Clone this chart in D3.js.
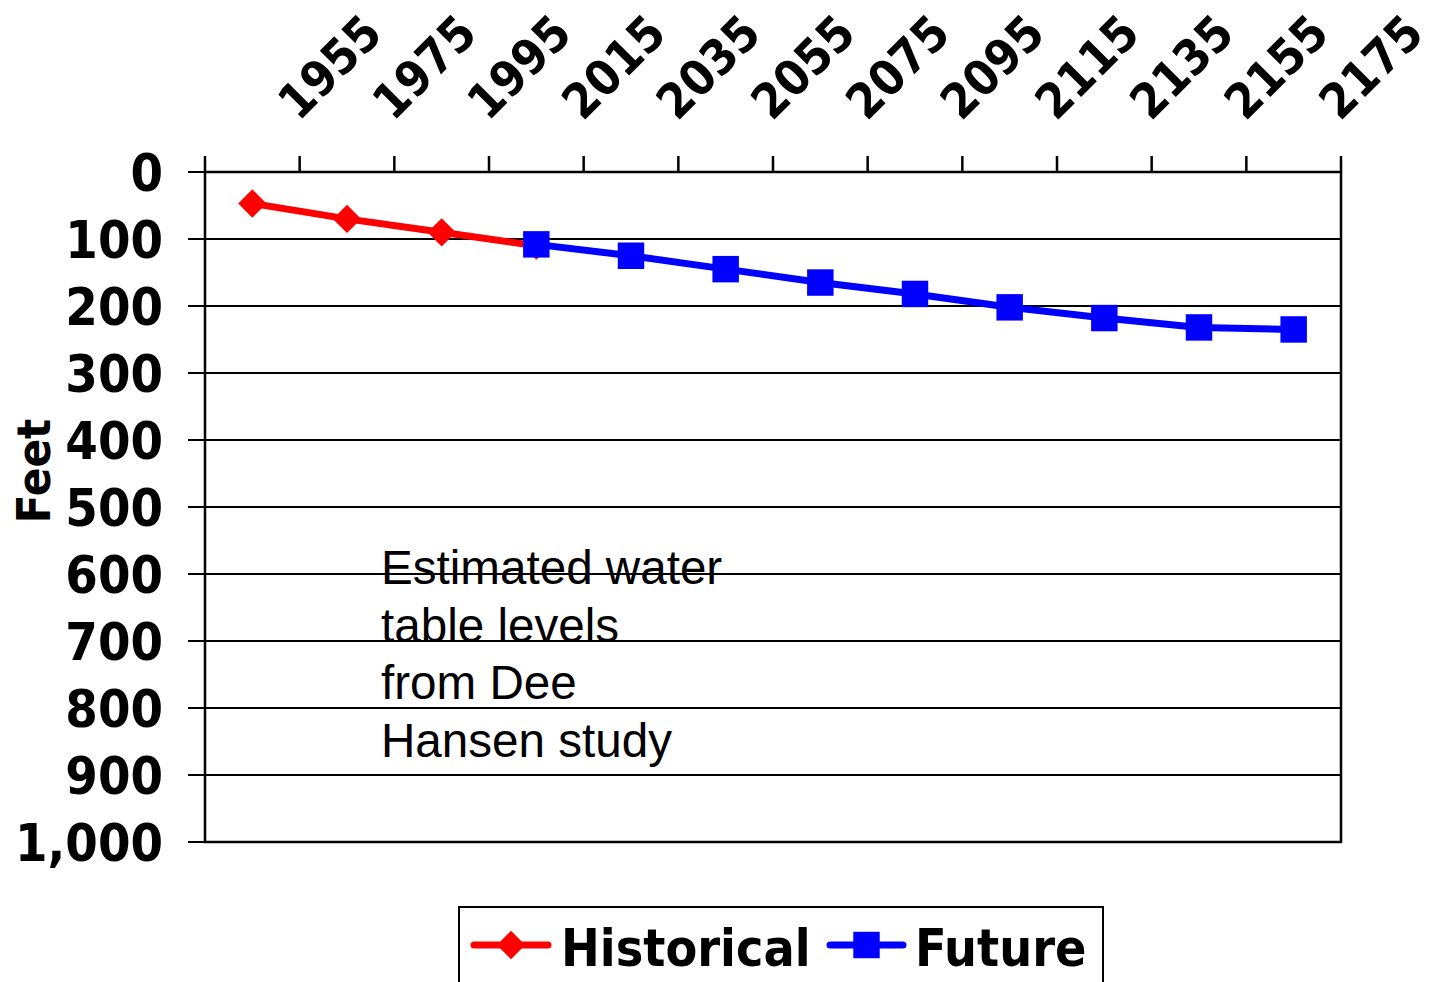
<!DOCTYPE html>
<html>
<head>
<meta charset="utf-8">
<script src="https://cdn.jsdelivr.net/npm/d3@7/dist/d3.min.js"></script>
<style>
  html, body { margin: 0; padding: 0; background: #fff; }
  svg { display: block; }
  .bold { font-family: "DejaVu Sans Condensed", "DejaVu Sans", sans-serif; font-stretch: condensed; font-weight: bold; fill: #000; }
</style>
</head>
<body>
<svg id="chart" width="1437" height="982"></svg>
<script>
// ---- Data ----
const categories = ["1955","1975","1995","2015","2035","2055","2075","2095","2115","2135","2155","2175"];
const historical = [47, 70, 90, 110, null, null, null, null, null, null, null, null];
const future     = [null, null, null, 108, 125, 145, 165, 182, 202, 218, 232, 235];
const yTicks = [0, 100, 200, 300, 400, 500, 600, 700, 800, 900, 1000];
const seriesNames = ["Historical", "Future"];
const noteLines = ["Estimated water", "table levels", "from Dee", "Hansen study"];

// ---- Layout ----
const svg = d3.select("#chart");
const L = 205, R = 1341, T = 172, B = 842;

const x = d3.scaleBand().domain(categories).range([L, R]).padding(0);
const y = d3.scaleLinear().domain([0, 1000]).range([T, B]);
const fmt = d3.format(",");

// gridlines (with left tick extension)
svg.append("g").selectAll("line").data(yTicks).join("line")
  .attr("x1", L - 17).attr("x2", R)
  .attr("y1", d => y(d)).attr("y2", d => y(d))
  .attr("stroke", "#000").attr("stroke-width", 2);

// plot border
svg.append("rect").attr("x", L).attr("y", T).attr("width", R - L).attr("height", B - T)
  .attr("fill", "none").attr("stroke", "#000").attr("stroke-width", 2.5);

// top axis ticks at band boundaries
const tickXs = [L].concat(categories.map(c => x(c) + x.bandwidth()));
svg.append("g").selectAll("line").data(tickXs).join("line")
  .attr("x1", d => d).attr("x2", d => d)
  .attr("y1", T - 16).attr("y2", T)
  .attr("stroke", "#000").attr("stroke-width", 2.5);

// top axis labels (rotated)
svg.append("g").selectAll("text").data(categories).join("text")
  .attr("class", "bold")
  .attr("font-size", 48.5)
  .attr("text-anchor", "start")
  .attr("transform", d => `translate(${x(d) + x.bandwidth() - 1},${T - 50}) rotate(-45)`)
  .text(d => d);

// y labels
svg.append("g").selectAll("text").data(yTicks).join("text")
  .attr("class", "bold")
  .attr("font-size", 52)
  .attr("text-anchor", "end")
  .attr("x", 163)
  .attr("y", d => y(d) + 19)
  .text(d => fmt(d));

// y title
svg.append("text").attr("class", "bold")
  .attr("font-size", 47)
  .attr("text-anchor", "middle")
  .attr("transform", "translate(50,471) rotate(-90)")
  .text("Feet");

// annotation
svg.append("g").selectAll("text").data(noteLines).join("text")
  .attr("x", 381)
  .attr("y", (d, i) => 584 + i * 57.7)
  .attr("font-family", "'Liberation Sans', Arial, sans-serif")
  .attr("font-size", 47.6)
  .attr("fill", "#000")
  .text(d => d);

// lines
const cx = c => x(c) + x.bandwidth() / 2;
function drawSeries(vals, color, shape) {
  const pts = categories.map((c, i) => ({c, v: vals[i]})).filter(d => d.v != null);
  const line = d3.line().x(d => cx(d.c)).y(d => y(d.v));
  svg.append("path").datum(pts).attr("d", line)
    .attr("fill", "none").attr("stroke", color).attr("stroke-width", 7)
    .attr("stroke-linejoin", "round");
  const sym = d3.symbol().type(d3.symbolSquare).size(shape === "diamond" ? 400 : 700);
  svg.append("g").selectAll("path").data(pts).join("path")
    .attr("d", sym)
    .attr("transform", d => `translate(${cx(d.c)},${y(d.v)})` + (shape === "diamond" ? " rotate(45)" : ""))
    .attr("fill", color);
}
drawSeries(historical, "#ff0000", "diamond");
drawSeries(future, "#0000ff", "square");

// legend
const lg = svg.append("g");
lg.append("rect").attr("x", 459).attr("y", 907).attr("width", 644).attr("height", 110)
  .attr("fill", "#fff").attr("stroke", "#000").attr("stroke-width", 2);
const legendItems = [
  {name: seriesNames[0], color: "#ff0000", shape: "diamond", lx1: 474, lx2: 548, tx: 561},
  {name: seriesNames[1], color: "#0000ff", shape: "square", lx1: 830, lx2: 903, tx: 915}
];
legendItems.forEach(it => {
  lg.append("line").attr("x1", it.lx1).attr("x2", it.lx2).attr("y1", 945).attr("y2", 945)
    .attr("stroke", it.color).attr("stroke-width", 7).attr("stroke-linecap", "round");
  const mx = (it.lx1 + it.lx2) / 2;
  lg.append("path")
    .attr("d", d3.symbol().type(d3.symbolSquare).size(it.shape === "diamond" ? 400 : 700)())
    .attr("transform", `translate(${mx},945)` + (it.shape === "diamond" ? " rotate(45)" : ""))
    .attr("fill", it.color);
  lg.append("text").attr("class", "bold").attr("font-size", 51.5)
    .attr("x", it.tx).attr("y", 966).text(it.name);
});
</script>
</body>
</html>
